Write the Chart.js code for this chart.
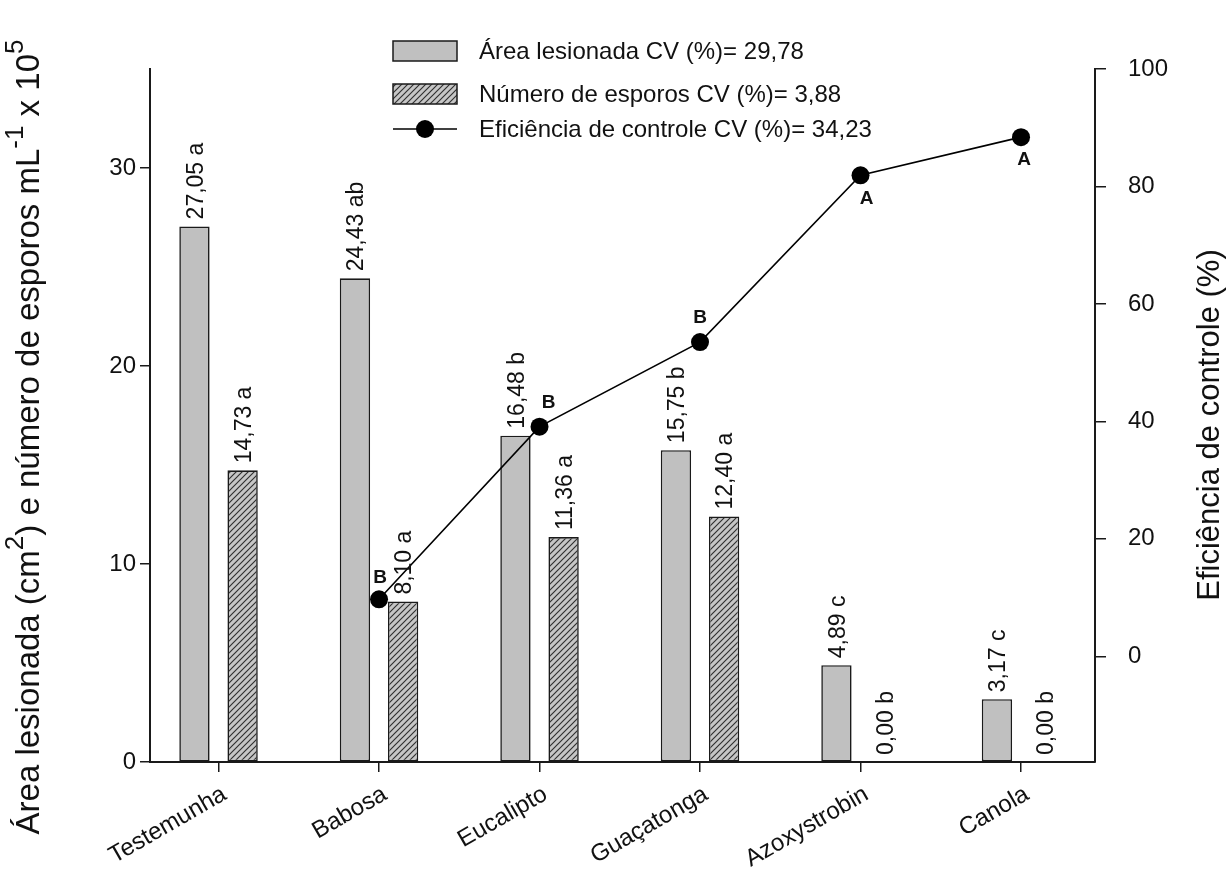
<!DOCTYPE html>
<html>
<head>
<meta charset="utf-8">
<script src="https://cdn.jsdelivr.net/npm/chart.js@4.4.1/dist/chart.umd.min.js"></script>
<style>
  html, body { margin: 0; padding: 0; background: #ffffff; }
  #wrap { width: 1227px; height: 871px; }
</style>
</head>
<body>
<div id="wrap"><canvas id="c" width="1227" height="871"></canvas></div>
<script>
// Treatments and measured values
const categories = ['Testemunha', 'Babosa', 'Eucalipto', 'Guaçatonga', 'Azoxystrobin', 'Canola'];
const areaLesionada = [27.05, 24.43, 16.48, 15.75, 4.89, 3.17];
const areaLetras = ['a', 'ab', 'b', 'b', 'c', 'c'];
const numeroEsporos = [14.73, 8.10, 11.36, 12.40, 0.00, 0.00];
const esporosLetras = ['a', 'a', 'a', 'a', 'b', 'b'];
const eficiencia = [null, 9.7, 39.1, 53.5, 81.9, 88.4];
const eficienciaLetras = [null, 'B', 'B', 'B', 'A', 'A'];
const leftTicks = [0, 10, 20, 30];
const rightTicks = [0, 20, 40, 60, 80, 100];
const legendLabels = [
  'Área lesionada CV (%)= 29,78',
  'Número de esporos CV (%)= 3,88',
  'Eficiência de controle CV (%)= 34,23'
];

const FONT = '"Liberation Sans", Arial, Helvetica, sans-serif';
const INK = '#111111';
const AXIS = '#1a1a1a';

const canvas = document.getElementById('c');
const ctx = canvas.getContext('2d');

// diagonal hatch fill for the spore-count bars
function makeHatch() {
  const s = 6;
  const t = document.createElement('canvas');
  t.width = s; t.height = s;
  const g = t.getContext('2d');
  g.fillStyle = '#c6c6c6';
  g.fillRect(0, 0, s, s);
  g.strokeStyle = '#303030';
  g.lineWidth = 1.15;
  g.beginPath();
  g.moveTo(-1, s + 1); g.lineTo(s + 1, -1);
  g.moveTo(-s / 2 - 1, s / 2 + 1); g.lineTo(s / 2 + 1, -s / 2 - 1);
  g.moveTo(s / 2 - 1, s * 1.5 + 1); g.lineTo(s * 1.5 + 1, s / 2 - 1);
  g.stroke();
  return ctx.createPattern(t, 'repeat');
}
const hatch = makeHatch();

// letter placement around the efficiency markers (dx, dy in px)
const letterOffsets = [[0, 0], [1, -22], [9, -24], [0, -24], [6, 23], [3, 23]];

function fmt(v) { return v.toFixed(2).replace('.', ','); }

// text with superscripts, centred on (0,0) of the current transform
function drawRich(c, parts, size) {
  const supSize = Math.round(size * 0.8);
  let total = 0;
  parts.forEach(p => {
    c.font = `${p.sup ? supSize : size}px ${FONT}`;
    p.w = c.measureText(p.t).width;
    total += p.w;
  });
  let x = -total / 2;
  parts.forEach(p => {
    c.font = `${p.sup ? supSize : size}px ${FONT}`;
    c.fillText(p.t, x, p.sup ? -size * 0.42 : 0);
    x += p.w;
  });
}

const annotations = {
  id: 'annotations',
  afterDatasetsDraw(chart) {
    const c = chart.ctx;
    c.save();
    c.fillStyle = INK;
    c.textAlign = 'left';
    c.textBaseline = 'middle';
    c.font = `23px ${FONT}`;
    [[1, areaLesionada, areaLetras], [2, numeroEsporos, esporosLetras]].forEach(([di, vals, letters]) => {
      chart.getDatasetMeta(di).data.forEach((el, i) => {
        c.save();
        c.translate(el.x + 2, el.y - 7);
        c.rotate(-Math.PI / 2);
        c.fillText(fmt(vals[i]) + ' ' + letters[i], 0, 0);
        c.restore();
      });
    });
    c.font = `bold 19px ${FONT}`;
    c.textAlign = 'center';
    chart.getDatasetMeta(0).data.forEach((el, i) => {
      const l = eficienciaLetras[i];
      if (!l || eficiencia[i] === null) return;
      c.fillText(l, el.x + letterOffsets[i][0], el.y + letterOffsets[i][1]);
    });
    c.restore();
  },
  afterDraw(chart) {
    const c = chart.ctx;
    const ds = chart.data.datasets;
    c.save();
    // legend
    const x0 = 393, w = 64, tx = 479;
    const rows = [51, 94, 129];
    c.lineWidth = 1.5;
    c.strokeStyle = AXIS;
    c.fillStyle = ds[1].backgroundColor;
    c.fillRect(x0, rows[0] - 10, w, 20);
    c.strokeRect(x0, rows[0] - 10, w, 20);
    c.fillStyle = ds[2].backgroundColor;
    c.fillRect(x0, rows[1] - 10, w, 20);
    c.strokeRect(x0, rows[1] - 10, w, 20);
    c.strokeStyle = ds[0].borderColor;
    c.lineWidth = ds[0].borderWidth;
    c.beginPath();
    c.moveTo(x0, rows[2]); c.lineTo(x0 + w, rows[2]);
    c.stroke();
    c.fillStyle = ds[0].pointBackgroundColor;
    c.beginPath();
    c.arc(x0 + w / 2, rows[2], ds[0].pointRadius, 0, Math.PI * 2);
    c.fill();
    c.fillStyle = INK;
    c.font = `24px ${FONT}`;
    c.textAlign = 'left';
    c.textBaseline = 'middle';
    [ds[1].label, ds[2].label, ds[0].label].forEach((t, i) => c.fillText(t, tx, rows[i] + 1));

    // axis titles
    c.textBaseline = 'middle';
    c.save();
    c.translate(30, 437);
    c.rotate(-Math.PI / 2);
    drawRich(c, [
      { t: 'Área lesionada (cm' }, { t: '2', sup: true },
      { t: ') e número de esporos mL' }, { t: '-1', sup: true },
      { t: ' x 10' }, { t: '5', sup: true }
    ], 33);
    c.restore();
    c.save();
    c.translate(1210, 425);
    c.rotate(-Math.PI / 2);
    drawRich(c, [{ t: 'Eficiência de controle (%)' }], 31);
    c.restore();
    c.restore();
  }
};

const X_MIN = -0.427, X_MAX = 5.461;

new Chart(ctx, {
  type: 'bar',
  data: {
    datasets: [
      {
        type: 'line',
        label: legendLabels[2],
        data: categories.map((_, i) => ({ x: i, y: eficiencia[i] })),
        yAxisID: 'y2',
        borderColor: '#000000',
        borderWidth: 1.6,
        pointRadius: 9,
        pointBackgroundColor: '#000000',
        pointBorderColor: '#000000',
        pointBorderWidth: 0,
        tension: 0,
        spanGaps: false,
        order: 0
      },
      {
        type: 'bar',
        label: legendLabels[0],
        data: categories.map((_, i) => ({ x: i, y: areaLesionada[i] })),
        yAxisID: 'y',
        backgroundColor: '#c0c0c0',
        borderColor: AXIS,
        borderWidth: 1.6,
        borderSkipped: false,
        categoryPercentage: 0.6,
        barPercentage: 0.63,
        order: 1
      },
      {
        type: 'bar',
        label: legendLabels[1],
        data: categories.map((_, i) => ({ x: i, y: numeroEsporos[i] })),
        yAxisID: 'y',
        backgroundColor: hatch,
        borderColor: AXIS,
        borderWidth: 1.6,
        borderSkipped: false,
        categoryPercentage: 0.6,
        barPercentage: 0.63,
        order: 1
      }
    ]
  },
  options: {
    responsive: false,
    animation: false,
    events: [],
    layout: { padding: { top: 69, left: 0, right: 0, bottom: 0 } },
    plugins: { legend: { display: false }, tooltip: { enabled: false }, title: { display: false } },
    scales: {
      x: {
        type: 'linear',
        min: X_MIN,
        max: X_MAX,
        offset: false,
        afterBuildTicks: a => { a.ticks = categories.map((_, i) => ({ value: i })); },
        afterFit: s => { s.height = 109; },
        ticks: {
          autoSkip: false,
          maxRotation: 30,
          minRotation: 30,
          padding: 8,
          labelOffset: 6,
          color: INK,
          font: { family: FONT, size: 24 },
          callback: v => categories[v]
        },
        grid: { offset: false, drawOnChartArea: false, drawTicks: true, tickLength: 10, color: AXIS, lineWidth: 1.5 },
        border: { display: true, color: AXIS, width: 2 }
      },
      y: {
        position: 'left',
        min: 0,
        max: 35,
        afterBuildTicks: a => { a.ticks = leftTicks.map(v => ({ value: v })); },
        afterFit: s => { s.width = 150; },
        ticks: { padding: 4, color: INK, font: { family: FONT, size: 24 } },
        grid: { drawOnChartArea: false, tickLength: 10, color: AXIS, lineWidth: 1.5 },
        border: { display: true, color: AXIS, width: 2 }
      },
      y2: {
        position: 'right',
        min: -18,
        max: 100,
        afterBuildTicks: a => { a.ticks = rightTicks.map(v => ({ value: v })); },
        afterFit: s => { s.width = 132; },
        ticks: { padding: 22, color: INK, font: { family: FONT, size: 24 } },
        grid: { drawOnChartArea: false, tickLength: 11, color: AXIS, lineWidth: 1.5 },
        border: { display: true, color: AXIS, width: 2 }
      }
    }
  },
  plugins: [annotations]
});
</script>
</body>
</html>
